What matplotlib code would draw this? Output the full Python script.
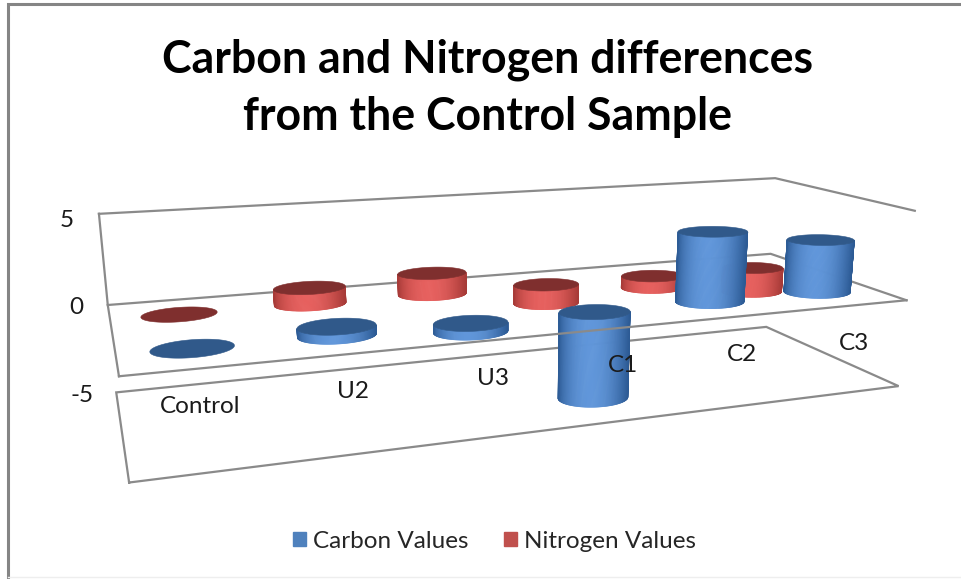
import numpy as np
import matplotlib
matplotlib.use("Agg")
import matplotlib.pyplot as plt
from matplotlib.collections import PolyCollection
from matplotlib.patches import Patch

categories = ["Control", "U2", "U3", "C1", "C2", "C3"]
carbon_values = [0.0, 0.45, -0.45, -4.8, 3.9, 3.0]
nitrogen_values = [0.0, 0.9, 1.2, -1.1, -0.7, -1.5]
value_ticks = [5, 0, -5]
title_text = "Carbon and Nitrogen differences\nfrom the Control Sample"

W, H = 962, 579
fig = plt.figure(figsize=(W / 100, H / 100), dpi=100, facecolor="white")
ax = fig.add_axes([0, 0, 1, 1])
ax.set_xlim(0, W)
ax.set_ylim(H, 0)
ax.axis("off")
plt.rcParams["font.family"] = ["Lato", "DejaVu Sans"]

# Camera of the 3-D chart box: (category position, depth 0 back..1 front, value) -> image
box_refs = [
    ((0, 0, 5), (98, 214)), ((6, 0, 5), (775, 178)), ((6, 1, 5), (915, 211)),
    ((0, 0, 0), (109, 304)), ((6, 0, 0), (770, 254)), ((6, 1, 0), (907, 300)), ((0, 1, 0), (120, 377)),
    ((0, 0, -5), (116, 393)), ((6, 0, -5), (767, 327)), ((6, 1, -5), (898, 386)), ((0, 1, -5), (128, 482)),
]
rows = []
for (a, b, c), (px, py) in box_refs:
    rows.append([a, b, c, 1, 0, 0, 0, 0, -px * a, -px * b, -px * c, -px])
    rows.append([0, 0, 0, 0, a, b, c, 1, -py * a, -py * b, -py * c, -py])
camera = np.linalg.svd(np.array(rows, float))[2][-1].reshape(3, 4)


def project(u, v, w):
    u, v, w = np.broadcast_arrays(np.asarray(u, float), np.asarray(v, float), np.asarray(w, float))
    p = camera @ np.stack([u.ravel(), v.ravel(), w.ravel(), np.ones(u.size)])
    return np.stack([p[0] / p[2], p[1] / p[2]], axis=1)


def line(points, z=1):
    xy = np.vstack([project(*p) for p in points])
    ax.plot(xy[:, 0], xy[:, 1], color="#8a8a8a", lw=1.6, zorder=z, solid_joinstyle="miter")


# box
line([(0, 0, 5), (6, 0, 5), (6, 1, 5)])
line([(0, 0, 5), (0, 0, 0)])
line([(0, 1, -5), (0, 0, -5), (6, 0, -5), (6, 1, -5), (0, 1, -5)])
line([(0, 1, 0), (0, 0, 0), (6, 0, 0), (6, 1, 0)])

RU, RV = 0.28, 0.115
ANGLES = np.linspace(0, 2 * np.pi, 241)[:-1]


def rgb(h):
    return np.array(matplotlib.colors.to_rgb(h))


def cylinder(i, depth, value, edge, centre, cap, z):
    u0 = i + 0.5
    hi, lo = max(value, 0), min(value, 0)
    cu, cv = u0 + RU * np.cos(ANGLES), depth + RV * np.sin(ANGLES)
    top = project(cu, cv, hi)
    bot = project(cu, cv, lo)
    if value != 0:
        # visible front arc: from the rightmost to the leftmost point of the cap
        right, left = int(np.argmax(top[:, 0])), int(np.argmin(top[:, 0]))
        arc = np.arange(right, left + 1 if left > right else left + 1 + ANGLES.size) % ANGLES.size
        n = arc.size - 1
        phase = (np.arange(n) + 0.5) / n
        k = np.clip(np.sin(np.pi * phase - 0.12), 0, 1) ** 1.8
        cols = (1 - k)[:, None] * rgb(edge) + k[:, None] * rgb(centre)
        polys = [np.vstack([top[arc[j]], top[arc[j + 1]], bot[arc[j + 1]], bot[arc[j]]]) for j in range(n)]
        body = PolyCollection(polys, facecolors=cols, edgecolors=cols, linewidths=0.5, zorder=z,
                              joinstyle="round", capstyle="round")
        body.set_snap(False)
        ax.add_collection(body)
    ax.fill(top[:, 0], top[:, 1], color=cap, lw=0.4, zorder=z + 0.1)


BLUE = ("#2c5a94", "#6096da", "#30598a")
RED = ("#a63a37", "#e6605e", "#7f2f2e")
for i, val in enumerate(nitrogen_values):
    cylinder(i, 0.25, val, *RED, 2 + i * 0.2)
for i, val in enumerate(carbon_values):
    cylinder(i, 0.75, val, *BLUE, 4 + i * 0.2)

# front edge of the zero plane lies over the bars
line([(0, 1, 0), (6, 1, 0)], z=6)

for t in value_ticks:
    x, y = project(0, 0, t)[0]
    ax.text(x - 24 - t * 0.2, y + 3 + max(t, 0) * 0.8, str(t), ha="right", va="center", fontsize=17.5,
            color="#1a1a1a", zorder=8)

for i, c in enumerate(categories):
    x, y = project(i + 0.5, 1.0, 0)[0]
    ax.text(x + 0, y + 38, c, ha="center", va="center", fontsize=17.5, color="#1a1a1a", zorder=8)

ax.text(488, 88.5, title_text, ha="center", va="center", fontsize=32.1, fontweight="bold",
        color="black", linespacing=1.45, zorder=8)

ax.legend(handles=[Patch(color="#4f81bd", label="Carbon Values"), Patch(color="#c0504d", label="Nitrogen Values")],
          loc="center", bbox_to_anchor=(494.5 / W, 1 - 541 / H), ncol=2, frameon=False, fontsize=17.5,
          handlelength=0.55, handleheight=0.55, handletextpad=0.3, columnspacing=1.43, labelcolor="#262626")

# chart frame
ax.plot([8, 8, W], [H, 4, 4], color="#858585", lw=2.2, zorder=9, clip_on=False, solid_joinstyle="miter")
ax.plot([8, W], [577, 577], color="#eeeeee", lw=1, zorder=9)

fig.savefig("out.png", dpi=100, facecolor="white")
